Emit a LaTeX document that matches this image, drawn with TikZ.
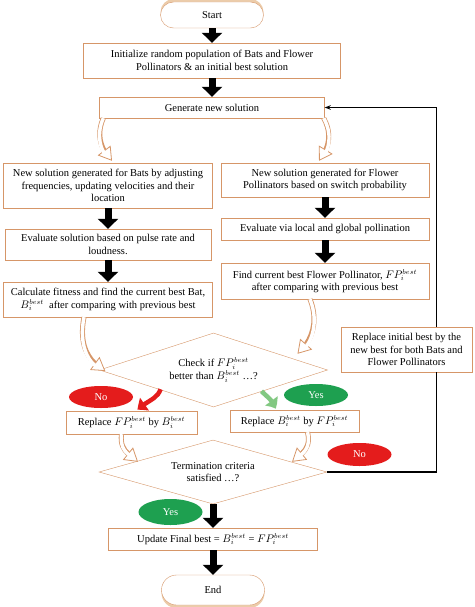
\documentclass[tikz,border=0pt]{standalone}
\usepackage{fontspec}
\setmainfont{Liberation Serif}
\usetikzlibrary{arrows.meta, bending, positioning, shapes, calc, shadows}
\definecolor{brdr}{RGB}{214,150,104}
\definecolor{shd}{RGB}{236,204,170}
\definecolor{nored}{RGB}{228,28,28}
\definecolor{yesgreen}{RGB}{30,160,80}
\definecolor{arrgreen}{RGB}{130,200,130}

\begin{document}
\begin{tikzpicture}[x=1pt, y=-1pt, font={\fontsize{10.5}{12.5}\selectfont},
    box/.style={draw=brdr, fill=white, align=center, inner sep=1pt},
    term/.style={draw=brdr, fill=white, rounded corners=13pt, minimum width=103pt},
    decide/.style={diamond, draw=brdr, fill=white, align=center, inner sep=0pt, shape aspect=3.2},
    tag/.style={ellipse, text=white, minimum width=64pt, minimum height=22pt, inner sep=0pt},
    blk/.style={line width=7pt, -{Triangle[length=10pt, width=20pt]}},
    hollow/.style={draw=brdr, line width=5pt, -{Triangle[open, fill=white, length=13pt, width=16pt, line width=0.8pt]},
        postaction={draw=white, line width=3.4pt, shorten >=10pt, -}},
    bold/.style={line width=4.5pt, -{Triangle[bend, length=9pt, width=15pt]}}]
    \useasboundingbox (0,0) rectangle (474,607);

    \node[term, minimum height=26pt, general shadow={fill=shd, shadow yshift=3pt}] (start) at (212,15) {Start};
    \node[box, minimum width=257pt, minimum height=35pt] (init) at (212,60.5) {Initialize random population of Bats and Flower\\Pollinators \& an initial best solution};
    \node[box, minimum width=225pt, minimum height=21pt] (gen) at (212,107.5) {Generate new solution};

    % bats
    \node[box, minimum width=209pt, minimum height=45pt] (bat1) at (108,185.5) {New solution generated for Bats by adjusting\\frequencies, updating velocities and their\\location};
    \node[box, minimum width=206pt, minimum height=31pt] (bat2) at (108,244.5) {Evaluate solution based on pulse rate and\\loudness.};
    \node[box, minimum width=209pt, minimum height=35pt] (bat3) at (108,299.5) {Calculate fitness and find the current best Bat,\\$B_i^{best}$~~after comparing with previous best};

    % flower pollinators
    \node[box, minimum width=208pt, minimum height=34pt] (fp1) at (325,180) {New solution generated for Flower\\Pollinators based on switch probability};
    \node[box, minimum width=208pt, minimum height=22pt] (fp2) at (325,229) {Evaluate via local and global pollination};
    \node[box, minimum width=208pt, minimum height=36pt] (fp3) at (325,281) {Find current best Flower Pollinator, $FP_i^{best}$\\after comparing with previous best};

    \node[decide, minimum width=228pt, minimum height=74pt] (check) at (213.5,370) {Check if $FP_i^{best}$\\better than $B_i^{best}$ \dots?};
    \node[box, minimum width=131pt, minimum height=23pt] (repl) at (131.5,422.5) {Replace $FP_i^{best}$ by $B_i^{best}$};
    \node[box, minimum width=129pt, minimum height=22pt] (repr) at (294.5,421) {Replace $B_i^{best}$ by $FP_i^{best}$};
    \node[decide, minimum width=228pt, minimum height=64pt] (term) at (213,472) {Termination criteria\\satisfied \dots?};
    \node[box, minimum width=131pt, minimum height=45pt] (rinit) at (406.5,349.5) {Replace initial best by the\\new best for both Bats and\\Flower Pollinators};
    \node[box, minimum width=209pt, minimum height=22pt] (upd) at (213,539) {Update Final best = $B_i^{best}$ = $FP_i^{best}$};
    \node[term, minimum height=30pt, rounded corners=15pt, general shadow={fill=shd, shadow yshift=-3pt}] (endn) at (213,590) {End};

    \node[tag, fill=nored] (no1) at (101,397) {No};
    \node[tag, fill=yesgreen] (yes1) at (316,395) {Yes};
    \node[tag, fill=nored, minimum height=23pt] (no2) at (359.5,454.5) {No};
    \node[tag, fill=yesgreen, minimum height=26pt] (yes2) at (170.5,512) {Yes};

    % block arrows
    \draw[blk] (start) -- (init);
    \draw[blk] (init) -- (gen);
    \draw[blk] (bat1) -- (bat2);
    \draw[blk] (bat2) -- (bat3);
    \draw[blk] (fp1) -- (fp2);
    \draw[blk] (fp2) -- (fp3);
    \draw[blk] (term) -- (upd);
    \draw[blk] (upd) -- (endn);

    % curved arrows
    \draw[hollow] ($(gen.south west)+(4,0)$) .. controls +(-8,18) and +(-10,-10) .. ($(bat1.north)+(4,-2)$);
    \draw[hollow] ($(gen.south east)+(-1,0)$) .. controls +(10,18) and +(8,-10) .. ($(fp1.north)+(-6,-2)$);
    \draw[hollow] ($(bat3.south)+(-24,0)$) .. controls +(-6,30) and +(-15,-8) .. ($(check.west)+(6,1)$);
    \draw[hollow] ($(fp3.south)+(-15,0)$) .. controls +(10,25) and +(12,-10) .. ($(check.north)+(84,21)$);
    \draw[hollow] ($(repl.south)+(-10,0)$) .. controls +(-2,15) and +(-10,-8) .. ($(term.north)+(-75,22)$);
    \draw[hollow] ($(repr.south)+(13,0)$) .. controls +(4,16) and +(10,-8) .. ($(term.north)+(79,22)$);
    \draw[bold, nored] ($(check.south)+(-53,-18)$) .. controls +(-3,10) and +(9,-9) .. ($(repl.north)+(6,-1)$);
    \draw[bold, arrgreen] ($(check.south)+(48,-16)$) .. controls +(6,6) and +(-2,-8) .. ($(repr.north)+(-19,-1)$);

    % loop back
    \coordinate (fb) at (436.5,0);
    \draw[line width=1.2pt] (term.east) -| (rinit.south -| fb);
    \draw[line width=1.2pt, -{Stealth[length=6pt]}] (rinit.north -| fb) |- (gen.east);
\end{tikzpicture}
\end{document}
